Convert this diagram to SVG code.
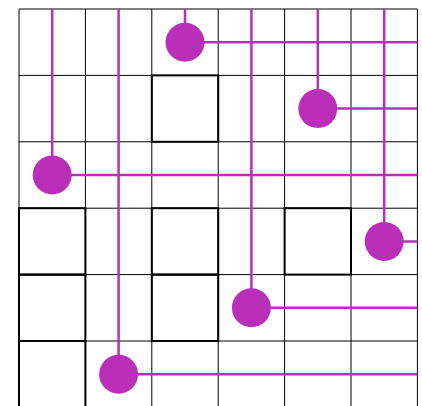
<svg xmlns="http://www.w3.org/2000/svg" width="422" height="406" viewBox="0 0 422 406">
<style>
.grid{stroke:#000;stroke-width:1;fill:none}
.box{stroke:#000;stroke-width:2;fill:none}
.wire{stroke:#BA2FB9;stroke-width:2.5;fill:none}
.dot{fill:#BA2FB9}
</style>
<rect width="422" height="406" fill="#fff"/>
<g id="grid" class="grid">
<path d="M19 9V407.4M85.4 9V407.4M151.8 9V407.4M218.2 9V407.4M284.6 9V407.4M351 9V407.4M417.4 9V407.4M19 9H417.4M19 75.4H417.4M19 141.8H417.4M19 208.2H417.4M19 274.6H417.4M19 341H417.4M19 407.4H417.4"/>
</g>
<g id="blocks" class="box">
<rect x="151.8" y="75.4" width="66.4" height="66.4"/>
<rect x="19" y="208.2" width="66.4" height="66.4"/>
<rect x="151.8" y="208.2" width="66.4" height="66.4"/>
<rect x="284.6" y="208.2" width="66.4" height="66.4"/>
<rect x="19" y="274.6" width="66.4" height="66.4"/>
<rect x="151.8" y="274.6" width="66.4" height="66.4"/>
<rect x="19" y="341" width="66.4" height="66.4"/>
</g>
<g id="connectors" class="wire">
<path d="M185 9V42.2H417.4"/>
<path d="M317.8 9V108.6H417.4"/>
<path d="M52.2 9V175H417.4"/>
<path d="M384.2 9V241.4H417.4"/>
<path d="M251.4 9V307.8H417.4"/>
<path d="M118.6 9V374.2H417.4"/>
</g>
<g id="n1"><circle class="dot" cx="185" cy="42.2" r="19.5"/></g>
<g id="n2"><circle class="dot" cx="317.8" cy="108.6" r="19.5"/></g>
<g id="n3"><circle class="dot" cx="52.2" cy="175" r="19.5"/></g>
<g id="n4"><circle class="dot" cx="384.2" cy="241.4" r="19.5"/></g>
<g id="n5"><circle class="dot" cx="251.4" cy="307.8" r="19.5"/></g>
<g id="n6"><circle class="dot" cx="118.6" cy="374.2" r="19.5"/></g>
</svg>
